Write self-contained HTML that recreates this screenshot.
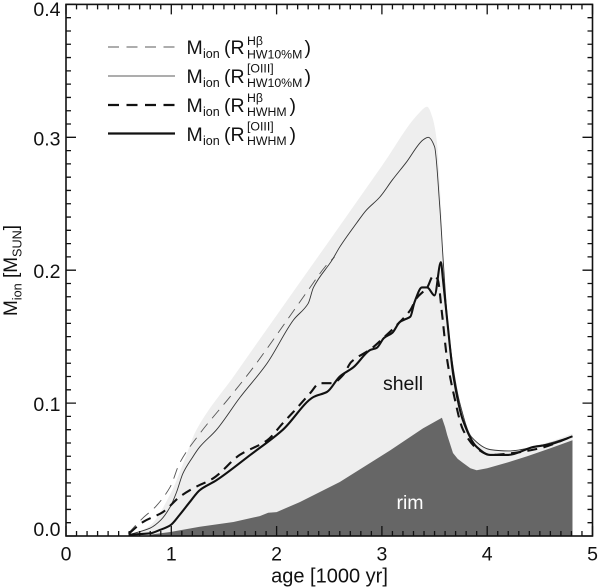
<!DOCTYPE html>
<html>
<head>
<meta charset="utf-8">
<title>Ionized mass vs age</title>
<style>
html,body{margin:0;padding:0;background:#fff;width:600px;height:587px;overflow:hidden}
svg{display:block}
text{font-family:"Liberation Sans",sans-serif;fill:#111}
</style>
</head>
<body>
<svg id="chart" xmlns="http://www.w3.org/2000/svg" width="600" height="587" viewBox="0 0 600 587">
  <g id="areas"></g>
  <g id="lines"></g>
  <g id="axes"></g>
  <text x="403" y="390" font-size="19.5" text-anchor="middle">shell</text>
  <text x="410" y="509" font-size="19.5" text-anchor="middle" style="fill:#fff">rim</text>
  <text x="329.500" y="582.700" font-size="20" text-anchor="middle">age [1000 yr]</text>
  <text transform="translate(17,270.500) rotate(-90)" font-size="19.500" text-anchor="middle" textLength="91" lengthAdjust="spacingAndGlyphs">M<tspan dy="4.500" font-size="13">ion</tspan><tspan dy="-4.500"> [M</tspan><tspan dy="4.500" font-size="13">SUN</tspan><tspan dy="-4.500">]</tspan></text>
  <g>
    <g>
      <line x1="108" x2="175" y1="47" y2="47" stroke="#929292" stroke-width="1.5" stroke-dasharray="11 7.5"/>
      <text y="54" font-size="19.5"><tspan x="186.500">M</tspan><tspan x="203" dy="4" font-size="12.500">ion</tspan><tspan x="224" dy="-4">(R</tspan></text>
      <text x="247" y="45" font-size="12.300">Hβ</text>
      <text x="247" y="58.500" font-size="12.300">HW10%M</text>
      <text x="304.500" y="54" font-size="19.5">)</text>
    </g>
    <g>
      <line x1="108" x2="175" y1="76" y2="76" stroke="#929292" stroke-width="1.5"/>
      <text y="83" font-size="19.5"><tspan x="186.500">M</tspan><tspan x="203" dy="4" font-size="12.500">ion</tspan><tspan x="224" dy="-4">(R</tspan></text>
      <text x="247" y="72.700" font-size="12.300">[OIII]</text>
      <text x="247" y="87" font-size="12.300">HW10%M</text>
      <text x="304.500" y="83" font-size="19.5">)</text>
    </g>
    <g>
      <line x1="108" x2="175" y1="105" y2="105" stroke="#111" stroke-width="2.2" stroke-dasharray="11 7.5"/>
      <text y="112" font-size="19.5"><tspan x="186.500">M</tspan><tspan x="203" dy="4" font-size="12.500">ion</tspan><tspan x="224" dy="-4">(R</tspan></text>
      <text x="247" y="102" font-size="12.300">Hβ</text>
      <text x="247" y="116" font-size="12.300">HWHM</text>
      <text x="289.500" y="112" font-size="19.5">)</text>
    </g>
    <g>
      <line x1="108" x2="175" y1="133.500" y2="133.500" stroke="#111" stroke-width="2.2"/>
      <text y="141" font-size="19.5"><tspan x="186.500">M</tspan><tspan x="203" dy="4" font-size="12.500">ion</tspan><tspan x="224" dy="-4">(R</tspan></text>
      <text x="247" y="130.500" font-size="12.300">[OIII]</text>
      <text x="247" y="145" font-size="12.300">HWHM</text>
      <text x="289.500" y="141" font-size="19.5">)</text>
    </g>
  </g>
</svg>
<script>
var xTickLabels = ['0', '1', '2', '3', '4', '5'];
var yTickLabels = ['0.0', '0.1', '0.2', '0.3', '0.4'];

var totalAge = [0.6, 0.8, 1.0, 1.1, 1.24, 1.6, 2.0, 2.57, 3.0, 3.35, 3.43, 3.48, 3.52, 3.56, 3.6, 3.65, 3.7, 3.8, 3.9, 4.0, 4.1, 4.2, 4.4, 4.6, 4.81];
var totalMass = [0, 0.008, 0.033, 0.052, 0.08, 0.121, 0.166, 0.23, 0.2785, 0.318, 0.323, 0.315, 0.298, 0.25, 0.18, 0.14, 0.113, 0.083, 0.071, 0.066, 0.064, 0.064, 0.067, 0.071, 0.077];

var rimAge = [0.8, 0.99, 1.27, 1.59, 1.84, 1.92, 2.0, 2.22, 2.6, 3.08, 3.39, 3.57, 3.6, 3.62, 3.675, 3.72, 3.77, 3.84, 3.9, 4.0, 4.2, 4.38, 4.6, 4.81];
var rimMass = [0.001, 0.003, 0.007, 0.0105, 0.015, 0.0175, 0.018, 0.0255, 0.0406, 0.0645, 0.081, 0.089, 0.082, 0.076, 0.0625, 0.058, 0.055, 0.051, 0.0495, 0.051, 0.0555, 0.06, 0.066, 0.072];

var hbWideAge = [0.59, 0.73, 0.85, 0.99, 1.08, 1.27, 1.55, 1.78, 2.1, 2.3, 2.46, 2.55];
var hbWideMass = [0.002, 0.0135, 0.022, 0.037, 0.055, 0.077, 0.104, 0.127, 0.1625, 0.185, 0.2025, 0.21];

var oiiiWideAge = [0.6, 0.8, 0.9, 0.99, 1.05, 1.11, 1.2, 1.27, 1.43, 1.65, 1.91, 2.16, 2.3, 2.35, 2.53, 2.6, 2.76, 2.85, 2.98, 3.1, 3.23, 3.39, 3.44, 3.5, 3.55, 3.58, 3.62, 3.68, 3.74, 3.85, 4.03, 4.2, 4.5, 4.81];
var oiiiWideMass = [0.001, 0.006, 0.012, 0.022, 0.033, 0.047, 0.059, 0.067, 0.08, 0.104, 0.13, 0.1625, 0.175, 0.187, 0.208, 0.2175, 0.2355, 0.245, 0.255, 0.268, 0.281, 0.298, 0.3, 0.293, 0.2475, 0.21, 0.165, 0.125, 0.1, 0.0745, 0.065, 0.064, 0.068, 0.075];

var hbCoreAge = [0.6, 0.73, 0.92, 1.08, 1.21, 1.4, 1.65, 1.91, 2.06, 2.19, 2.32, 2.41, 2.53, 2.63, 2.71, 2.9, 3.0, 3.17, 3.27, 3.33, 3.43, 3.49, 3.53, 3.57, 3.62, 3.68, 3.77, 3.9, 4.03, 4.2, 4.5, 4.81];
var hbCoreMass = [0.002, 0.0105, 0.018, 0.0295, 0.036, 0.0435, 0.061, 0.072, 0.085, 0.096, 0.1076, 0.115, 0.115, 0.121, 0.131, 0.141, 0.148, 0.161, 0.17, 0.179, 0.187, 0.196, 0.193, 0.168, 0.1325, 0.1075, 0.08, 0.066, 0.061, 0.062, 0.066, 0.075];

var oiiiCoreAge = [0.6, 0.8, 0.89, 0.99, 1.08, 1.18, 1.27, 1.43, 1.75, 2.06, 2.35, 2.48, 2.6, 2.73, 2.89, 2.95, 3.02, 3.1, 3.17, 3.22, 3.27, 3.31, 3.38, 3.43, 3.5, 3.56, 3.58, 3.62, 3.68, 3.77, 3.9, 4.03, 4.2, 4.44, 4.6, 4.81];
var oiiiCoreMass = [0.001, 0.002, 0.0045, 0.008, 0.016, 0.026, 0.0345, 0.042, 0.061, 0.08, 0.1046, 0.1085, 0.12, 0.127, 0.14, 0.1415, 0.149, 0.153, 0.161, 0.163, 0.165, 0.176, 0.187, 0.187, 0.181, 0.206, 0.193, 0.1625, 0.12, 0.087, 0.067, 0.061, 0.061, 0.067, 0.069, 0.075];

var SVGNS = 'http://www.w3.org/2000/svg';
function xScale(v) { return 66 + v * 105.3; }
function yScale(v) { return 536 - v * 1329; }
function node(tag, parent) {
  var el = document.createElementNS(SVGNS, tag);
  parent.appendChild(el);
  return el;
}
function linePath(ages, masses) {
  var px = ages.map(xScale);
  var py = masses.map(yScale);
  var n = px.length;
  var sec = [];
  var tan = [];
  var i;
  for (i = 0; i < n - 1; i++) {
    sec.push((py[i + 1] - py[i]) / (px[i + 1] - px[i]));
  }
  tan.push(sec[0]);
  for (i = 1; i < n - 1; i++) {
    tan.push(sec[i - 1] * sec[i] <= 0 ? 0 : 2 * sec[i - 1] * sec[i] / (sec[i - 1] + sec[i]));
  }
  tan.push(sec[n - 2]);
  var d = 'M' + px[0].toFixed(2) + ' ' + py[0].toFixed(2);
  for (i = 0; i < n - 1; i++) {
    var h = (px[i + 1] - px[i]) / 3;
    d += ' C' + (px[i] + h).toFixed(2) + ' ' + (py[i] + tan[i] * h).toFixed(2) + ' ' +
      (px[i + 1] - h).toFixed(2) + ' ' + (py[i + 1] - tan[i + 1] * h).toFixed(2) + ' ' +
      px[i + 1].toFixed(2) + ' ' + py[i + 1].toFixed(2);
  }
  return d;
}
function straightPath(ages, masses) {
  return ages.map(function (a, i) {
    return (i ? 'L' : 'M') + xScale(a).toFixed(2) + ' ' + yScale(masses[i]).toFixed(2);
  }).join(' ');
}
function closeArea(d, ages) {
  return d + ' L' + xScale(ages[ages.length - 1]).toFixed(2) + ' ' + yScale(0) + ' L' + xScale(ages[0]).toFixed(2) + ' ' + yScale(0) + ' Z';
}

var areas = document.getElementById('areas');
var lines = document.getElementById('lines');
var axes = document.getElementById('axes');

var shellArea = node('path', areas);


shellArea.setAttribute('d', closeArea(linePath(totalAge, totalMass), totalAge));
shellArea.setAttribute('fill', '#eeeeee');

var rimArea = node('path', areas);


rimArea.setAttribute('d', closeArea(straightPath(rimAge, rimMass), rimAge));
rimArea.setAttribute('fill', '#666666');

var hbWideLine = node('path', lines);


hbWideLine.setAttribute('d', linePath(hbWideAge, hbWideMass));
hbWideLine.setAttribute('fill', 'none');
hbWideLine.setAttribute('stroke', '#555');
hbWideLine.setAttribute('stroke-width', '0.9');
hbWideLine.setAttribute('stroke-dasharray', '11 7');

var oiiiWideLine = node('path', lines);


oiiiWideLine.setAttribute('d', linePath(oiiiWideAge, oiiiWideMass));
oiiiWideLine.setAttribute('fill', 'none');
oiiiWideLine.setAttribute('stroke', '#333');
oiiiWideLine.setAttribute('stroke-width', '0.9');

var hbCoreLine = node('path', lines);


hbCoreLine.setAttribute('d', linePath(hbCoreAge, hbCoreMass));
hbCoreLine.setAttribute('fill', 'none');
hbCoreLine.setAttribute('stroke', '#111');
hbCoreLine.setAttribute('stroke-width', '2.1');
hbCoreLine.setAttribute('stroke-dasharray', '10 6.5');

var oiiiCoreLine = node('path', lines);


oiiiCoreLine.setAttribute('d', linePath(oiiiCoreAge, oiiiCoreMass));
oiiiCoreLine.setAttribute('fill', 'none');
oiiiCoreLine.setAttribute('stroke', '#111');
oiiiCoreLine.setAttribute('stroke-width', '2.1');

var frame = node('rect', axes);


frame.setAttribute('x', xScale(0));
frame.setAttribute('y', yScale(0.4));
frame.setAttribute('width', xScale(5) - xScale(0));
frame.setAttribute('height', yScale(0) - yScale(0.4));
frame.setAttribute('fill', 'none');
frame.setAttribute('stroke', '#111');
frame.setAttribute('stroke-width', '1.6');

var tickPath = '';
for (var i = 0; i <= 50; i++) {
  var tx = xScale(i / 10);
  var xLen = i % 10 === 0 ? 10 : 5;
  tickPath += 'M' + tx.toFixed(2) + ' ' + yScale(0) + 'v' + (-xLen);
  tickPath += 'M' + tx.toFixed(2) + ' ' + yScale(0.4) + 'v' + xLen;
}
for (var j = 0; j <= 40; j++) {
  var ty = yScale(j / 100);
  var yLen = j % 10 === 0 ? 10 : 5;
  tickPath += 'M' + xScale(0) + ' ' + ty.toFixed(2) + 'h' + yLen;
  tickPath += 'M' + xScale(5) + ' ' + ty.toFixed(2) + 'h' + (-yLen);
}
var ticks = node('path', axes);


ticks.setAttribute('d', tickPath);
ticks.setAttribute('stroke', '#111');
ticks.setAttribute('stroke-width', '1.3');
ticks.setAttribute('fill', 'none');

xTickLabels.forEach(function (label) {
  var t = node('text', axes);
  
  
  t.setAttribute('x', xScale(parseFloat(label)));
  t.setAttribute('y', 560.7);
  t.setAttribute('font-size', '19.5');
  t.setAttribute('text-anchor', 'middle');
  t.textContent = label;
});
yTickLabels.forEach(function (label) {
  var t = node('text', axes);
  
  
  t.setAttribute('x', 60.5);
  t.setAttribute('y', Math.max(16, Math.min(yScale(parseFloat(label)) + 8, 536)));
  t.setAttribute('font-size', '19.5');
  t.setAttribute('text-anchor', 'end');
  t.textContent = label;
});
</script>
</body>
</html>
